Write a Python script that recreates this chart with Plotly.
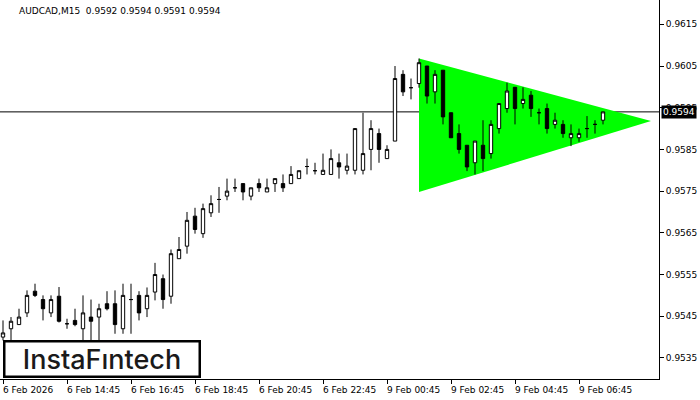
import plotly.graph_objects as go

symbol = "AUDCAD,M15"

time_labels = ["6 Feb 2026", "6 Feb 14:45", "6 Feb 16:45", "6 Feb 18:45", "6 Feb 20:45",
               "6 Feb 22:45", "9 Feb 00:45", "9 Feb 02:45", "9 Feb 04:45", "9 Feb 06:45"]

opens = [0.95400,0.95420,0.95430,0.95458,0.95510,0.95490,0.95458,0.95498,0.95432,0.95440,
         0.95420,0.95448,0.95448,0.95480,0.95480,0.95420,0.95490,0.95500,0.95468,0.95508,
         0.95540,0.95498,0.95588,0.95618,0.95690,0.95648,0.95698,0.95730,0.95738,0.95758,
         0.95768,0.95738,0.95768,0.95748,0.95768,0.95768,0.95768,0.95780,0.95809,0.95799,
         0.95790,0.95790,0.95818,0.95800,0.95800,0.95800,0.95850,0.95888,0.95828,0.95870,
         0.96030,0.95998,0.96008,0.96050,0.95988,0.96040,0.95938,0.95888,0.95860,0.95818,
         0.95860,0.95840,0.95900,0.95948,0.95999,0.95960,0.95980,0.95938,0.95948,0.95910,
         0.95910,0.95878,0.95878,0.95900,0.95910,0.95920]

highs = [0.95440,0.95448,0.95468,0.95512,0.95528,0.95500,0.95500,0.95520,0.95444,0.95468,
         0.95500,0.95490,0.95480,0.95510,0.95512,0.95528,0.95528,0.95510,0.95519,0.95578,
         0.95550,0.95610,0.95640,0.95700,0.95710,0.95720,0.95740,0.95760,0.95780,0.95780,
         0.95768,0.95758,0.95780,0.95780,0.95780,0.95790,0.95810,0.95799,0.95828,0.95818,
         0.95840,0.95850,0.95840,0.95840,0.95900,0.95938,0.95920,0.95900,0.95860,0.96050,
         0.96040,0.96020,0.96068,0.96050,0.96040,0.96040,0.95938,0.95910,0.95860,0.95870,
         0.95920,0.95920,0.95960,0.96010,0.95999,0.95999,0.95990,0.95948,0.95960,0.95938,
         0.95920,0.95910,0.95900,0.95930,0.95920,0.95940]

lows = [0.95392,0.95392,0.95430,0.95448,0.95496,0.95440,0.95448,0.95435,0.95420,0.95426,
        0.95392,0.95392,0.95392,0.95464,0.95408,0.95408,0.95408,0.95440,0.95448,0.95488,
        0.95468,0.95480,0.95588,0.95600,0.95648,0.95638,0.95688,0.95698,0.95728,0.95748,
        0.95728,0.95728,0.95748,0.95748,0.95748,0.95748,0.95768,0.95780,0.95790,0.95790,
        0.95790,0.95790,0.95780,0.95790,0.95790,0.95790,0.95800,0.95818,0.95828,0.95870,
        0.95978,0.95970,0.95998,0.95960,0.95960,0.95910,0.95878,0.95840,0.95798,0.95790,
        0.95798,0.95828,0.95888,0.95938,0.95910,0.95948,0.95928,0.95910,0.95888,0.95900,
        0.95878,0.95858,0.95868,0.95878,0.95888,0.95910]

closes = [0.95410,0.95438,0.95448,0.95500,0.95500,0.95468,0.95490,0.95438,0.95432,0.95430,
          0.95458,0.95438,0.95468,0.95468,0.95430,0.95500,0.95490,0.95458,0.95500,0.95550,
          0.95490,0.95600,0.95610,0.95680,0.95658,0.95708,0.95720,0.95730,0.95750,0.95758,
          0.95748,0.95758,0.95758,0.95758,0.95780,0.95758,0.95790,0.95799,0.95809,0.95799,
          0.95800,0.95828,0.95808,0.95810,0.95900,0.95840,0.95900,0.95850,0.95850,0.96020,
          0.95988,0.95998,0.96058,0.95978,0.96030,0.95928,0.95878,0.95850,0.95808,0.95870,
          0.95828,0.95910,0.95960,0.95990,0.95948,0.95970,0.95948,0.95938,0.95900,0.95920,
          0.95888,0.95888,0.95888,0.95900,0.95910,0.95940]

# symmetric triangle pattern: (bar index, price)
tri_bars = [52, 52, 81]
tri_prices = [0.96068, 0.95748, 0.95918]

y_ticks = [0.9535, 0.9545, 0.9555, 0.9565, 0.9575, 0.9585, 0.9595, 0.9605, 0.9615]

n = len(opens)
idx = list(range(n))
label_step = 8
label_pos = list(range(0, n, label_step))[:len(time_labels)]

x_range = [-0.375, 82]
y_range = [0.952995, 0.962083]

fig = go.Figure()

fig.add_trace(go.Candlestick(
    x=idx, open=opens, high=highs, low=lows, close=closes,
    increasing=dict(line=dict(color="black", width=1), fillcolor="white"),
    decreasing=dict(line=dict(color="black", width=1), fillcolor="black"),
    whiskerwidth=0, hoverinfo="skip", showlegend=False))

# triangle and bid line drawn beneath the candles
tri_path = "M " + " L ".join(f"{b},{p}" for b, p in zip(tri_bars, tri_prices)) + " Z"
shapes = [
    dict(type="path", path=tri_path, xref="x", yref="y", layer="below",
         fillcolor="#00ff00", line=dict(width=0)),
    dict(type="line", x0=0, x1=1, xref="paper", y0=closes[-1], y1=closes[-1], yref="y",
         layer="below", line=dict(color="black", width=1)),
]

font_axis = dict(family="DejaVu Sans", size=9, color="black")

fig.update_layout(
    width=700, height=400,
    margin=dict(l=0, r=41, t=0, b=21),
    paper_bgcolor="white", plot_bgcolor="white",
    boxgap=0.4,
    showlegend=False,
    shapes=shapes,
    xaxis=dict(range=x_range, showgrid=False, zeroline=False, rangeslider=dict(visible=False),
               tickmode="array", tickvals=label_pos, ticktext=[""] * len(label_pos),
               ticks="outside", ticklen=4, tickcolor="black",
               showline=True, linecolor="black", linewidth=1, mirror=True),
    yaxis=dict(range=y_range, side="right", showgrid=False, zeroline=False,
               tickmode="array", tickvals=y_ticks, ticktext=[f"{v:.4f}" for v in y_ticks],
               ticks="outside", ticklen=4, tickcolor="black", tickfont=font_axis,
               showline=True, linecolor="black", linewidth=1, mirror=True),
)

annotations = []
for p, t in zip(label_pos, time_labels):
    annotations.append(dict(x=p, y=0, xref="x", yref="paper", text=t, showarrow=False,
                            xanchor="left", yanchor="top", xshift=-2, yshift=-4, font=font_axis))

annotations.append(dict(x=1, y=closes[-1], xref="paper", yref="y", text=f"{closes[-1]:.4f}",
                        showarrow=False, xanchor="left", yanchor="middle", xshift=2,
                        bgcolor="black", font=dict(family="DejaVu Sans", size=9, color="white"),
                        borderpad=1))

annotations.append(dict(x=0, y=1, xref="paper", yref="paper",
                        text=f"{symbol}  {opens[-1]:.4f} {highs[-1]:.4f} {lows[-1]:.4f} {closes[-1]:.4f}",
                        showarrow=False, xanchor="left", yanchor="top", xshift=17, yshift=-4,
                        font=font_axis))

annotations.append(dict(x=0, y=0, xref="paper", yref="paper", text="InstaFıntech",
                        showarrow=False, xanchor="left", yanchor="bottom", xshift=3, yshift=1,
                        width=193, height=33, bgcolor="white", bordercolor="black",
                        borderwidth=2.5, borderpad=0,
                        font=dict(family="Inter", size=27, color="#1a1a1a", weight=500)))

fig.update_layout(annotations=annotations)

fig.write_html("out.html", config={"displayModeBar": False},
               post_script="document.body.style.margin='0';")
